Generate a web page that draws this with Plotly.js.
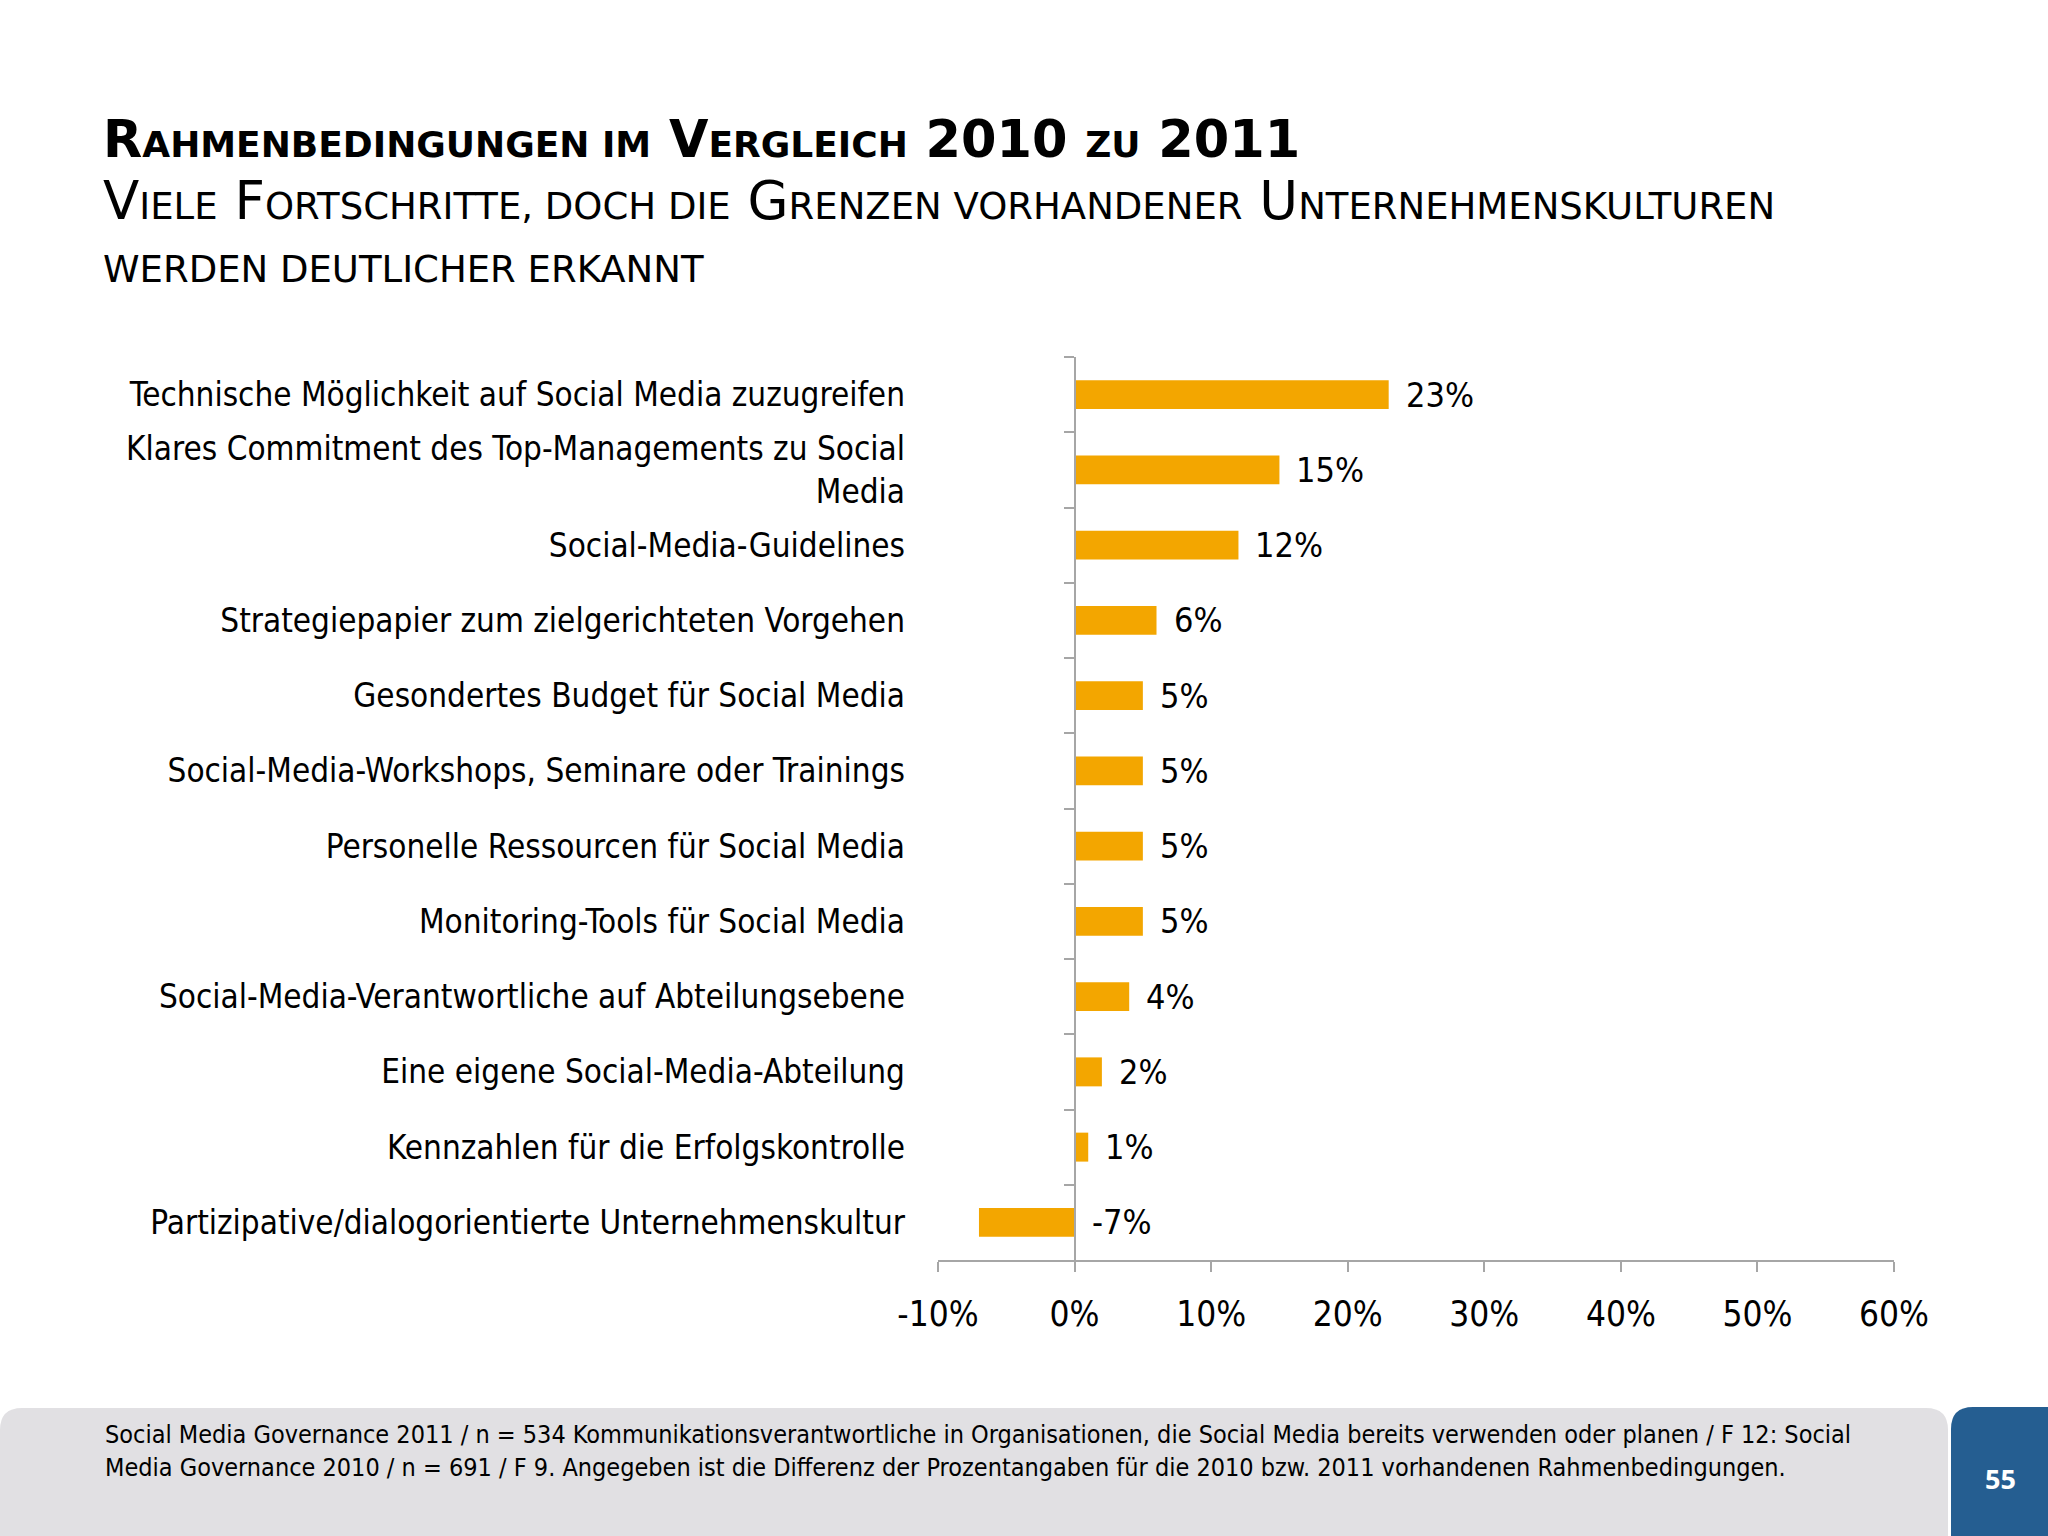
<!DOCTYPE html>
<html>
<head>
<meta charset="utf-8">
<script src="https://cdn.plot.ly/plotly-3.0.1.min.js"></script>
<style>html,body{margin:0;padding:0;background:#fff;}#chart{width:2048px;height:1536px;}</style>
</head>
<body>
<div id="chart"></div>
<script>
// ---- data ----
var categories = [
  "Technische Möglichkeit auf Social Media zuzugreifen",
  "Klares Commitment des Top-Managements zu Social<br>Media",
  "Social-Media-Guidelines",
  "Strategiepapier zum zielgerichteten Vorgehen",
  "Gesondertes Budget für Social Media",
  "Social-Media-Workshops, Seminare oder Trainings",
  "Personelle Ressourcen für Social Media",
  "Monitoring-Tools für Social Media",
  "Social-Media-Verantwortliche auf Abteilungsebene",
  "Eine eigene Social-Media-Abteilung",
  "Kennzahlen für die Erfolgskontrolle",
  "Partizipative/dialogorientierte Unternehmenskultur"
];
var values = [23, 15, 12, 6, 5, 5, 5, 5, 4, 2, 1, -7];
var tickValues = [-10, 0, 10, 20, 30, 40, 50, 60];
var tickLabels = ["-10%", "0%", "10%", "20%", "30%", "40%", "50%", "60%"];

var FONT = '"DejaVu Sans Condensed", "DejaVu Sans", sans-serif';
var TFONT = '"DejaVu Sans", sans-serif';
var W = 2048, H = 1536;
var ML = 938, MR = 154, MT = 357, MB = 276;
var PW = W - ML - MR, PH = H - MT - MB;
function X(px) { return (px - ML) / PW; }
function Y(py) { return (H - MB - py) / PH; }

function sz(s, size) { return '<span style="font-size:' + size + 'px">' + s + '</span>'; }

var a1 = 51, b1 = 36, a2 = 53, b2 = 37;
var titleText =
  '<b>' + sz('R', a1) + sz('AHMENBEDINGUNGEN IM', b1) + sz(' V', a1) + sz('ERGLEICH', b1) + sz(' 2010 ', a1) + sz('ZU', b1) + sz(' 2011', a1) + '</b><br>' +
  sz('V', a2) + sz('IELE', b2) + sz(' F', a2) + sz('ORTSCHRITTE, DOCH DIE', b2) + sz(' G', a2) + sz('RENZEN VORHANDENER', b2) + sz(' U', a2) + sz('NTERNEHMENSKULTUREN', b2) + '<br>' +
  sz('WERDEN DEUTLICHER ERKANNT', b2);

var barTrace = {
  type: 'bar',
  orientation: 'h',
  x: values,
  y: categories,
  marker: { color: '#F3A600' },
  hoverinfo: 'skip',
  cliponaxis: false
};

var annotations = values.map(function (v, i) {
  return {
    x: Math.max(v, 0), y: categories[i], xref: 'x', yref: 'y',
    text: v + '%', showarrow: false, xanchor: 'left', yanchor: 'middle',
    xshift: 15, font: { family: FONT, size: 34, color: '#000' }
  };
});

// footer
var r = 22;
var grayPath = 'M ' + X(0) + ' ' + Y(1600) +
  ' L ' + X(0) + ' ' + Y(1408 + r) +
  ' Q ' + X(0) + ' ' + Y(1408) + ' ' + X(r) + ' ' + Y(1408) +
  ' L ' + X(1948 - r) + ' ' + Y(1408) +
  ' Q ' + X(1948) + ' ' + Y(1408) + ' ' + X(1948) + ' ' + Y(1408 + r) +
  ' L ' + X(1948) + ' ' + Y(1600) + ' Z';
var bluePath = 'M ' + X(1951) + ' ' + Y(1600) +
  ' L ' + X(1951) + ' ' + Y(1407 + r) +
  ' Q ' + X(1951) + ' ' + Y(1407) + ' ' + X(1951 + r) + ' ' + Y(1407) +
  ' L ' + X(2100) + ' ' + Y(1407) +
  ' L ' + X(2100) + ' ' + Y(1600) + ' Z';

annotations.push({
  xref: 'paper', yref: 'paper', x: X(103), y: Y(1418), xanchor: 'left', yanchor: 'top', align: 'left',
  showarrow: false,
  text: 'Social Media Governance 2011 / n = 534 Kommunikationsverantwortliche in Organisationen, die Social Media bereits verwenden oder planen / F 12: Social<br>Media Governance 2010 / n = 691 / F 9. Angegeben ist die Differenz der Prozentangaben für die 2010 bzw. 2011 vorhandenen Rahmenbedingungen.',
  font: { family: FONT, size: 25, color: '#000' }
});
annotations.push({
  xref: 'paper', yref: 'paper', x: X(2000), y: Y(1478), xanchor: 'center', yanchor: 'middle',
  showarrow: false, text: '<b>55</b>',
  font: { family: '"Open Sans", sans-serif', size: 27, color: '#fff' }
});

var layout = {
  width: W, height: H,
  margin: { l: ML, r: MR, t: MT, b: MB, pad: 0 },
  paper_bgcolor: '#fff', plot_bgcolor: 'rgba(0,0,0,0)',
  showlegend: false,
  bargap: 0.615,
  title: {
    text: titleText,
    xref: 'container', yref: 'container',
    x: 103 / W, xanchor: 'left',
    y: 1 - 157 / H, yanchor: 'top',
    font: { family: TFONT, size: 48, color: '#000' }
  },
  xaxis: {
    range: [-10, 60],
    tickvals: tickValues, ticktext: tickLabels,
    showgrid: false, zeroline: false,
    showline: true, linecolor: '#A6A6A6', linewidth: 2,
    ticks: 'outside', ticklen: 10, tickwidth: 2, tickcolor: '#A6A6A6',
    ticklabelstandoff: 12,
    tickfont: { family: FONT, size: 35, color: '#000' },
    fixedrange: true
  },
  yaxis: {
    type: 'category',
    range: [11.5, -0.5],
    anchor: 'free', position: 1 / 7,
    showgrid: false, zeroline: false,
    showline: true, linecolor: '#A6A6A6', linewidth: 2,
    ticks: 'outside', tickson: 'boundaries', ticklen: 10, tickwidth: 2, tickcolor: '#A6A6A6',
    ticklabelstandoff: 162,
    tickfont: { family: FONT, size: 33, color: '#000' },
    fixedrange: true
  },
  shapes: [
    { type: 'path', xref: 'paper', yref: 'paper', path: grayPath, fillcolor: '#E1E0E3', line: { width: 0 }, layer: 'below' },
    { type: 'path', xref: 'paper', yref: 'paper', path: bluePath, fillcolor: '#255E91', line: { width: 0 }, layer: 'below' }
  ],
  annotations: annotations
};

Plotly.newPlot('chart', [barTrace], layout, { staticPlot: true, displayModeBar: false });
</script>
</body>
</html>
